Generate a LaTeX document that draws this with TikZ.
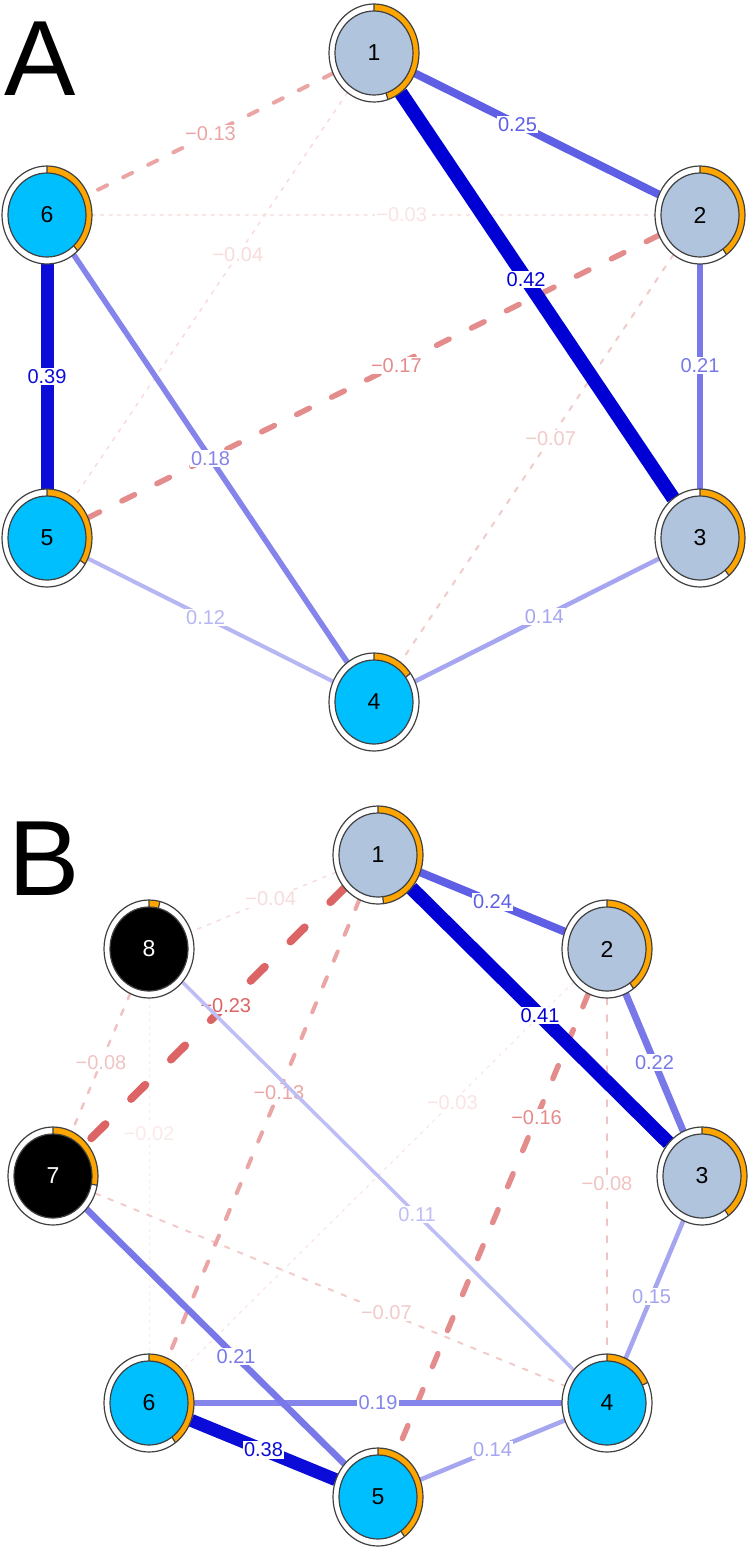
\documentclass[tikz,border=0pt]{standalone}
\usepackage{fontspec}
\setmainfont{Liberation Sans}
\usetikzlibrary{shapes.geometric}
\definecolor{steel}{HTML}{B0C4DE}
\definecolor{sky}{HTML}{00BFFF}
\definecolor{pieorange}{HTML}{FFA500}
\definecolor{ringgray}{HTML}{404040}
% positive edge colours
\definecolor{p42}{RGB}{0,0,213}
\definecolor{p39}{RGB}{12,12,216}
\definecolor{p25}{RGB}{95,95,230}
\definecolor{p21}{RGB}{120,120,232}
\definecolor{p18}{RGB}{132,132,234}
\definecolor{p14}{RGB}{165,165,240}
\definecolor{p12}{RGB}{182,182,244}
\definecolor{p11}{RGB}{190,190,246}
% negative edge colours
\definecolor{n23}{RGB}{220,100,100}
\definecolor{n17}{RGB}{228,140,140}
\definecolor{n13}{RGB}{235,165,165}
\definecolor{n08}{RGB}{241,195,195}
\definecolor{n07}{RGB}{243,202,202}
\definecolor{n04}{RGB}{248,220,220}
\definecolor{n03}{RGB}{250,228,228}
\definecolor{n02}{RGB}{251,234,234}
\tikzset{
  anchorpt/.style={ellipse, minimum width=90pt, minimum height=98pt, inner sep=0pt},
  posedge/.style={line cap=butt},
  negedge/.style={line cap=round},
  lab/.style={fill=white, inner sep=1.5pt, font=\fontsize{20}{20}\selectfont},
  bigletter/.style={font=\fontsize{107}{107}\selectfont, anchor=base west, inner sep=0pt}
}
\newcommand{\pienode}[6]{%
\begin{scope}[shift={(#1,#2)}]
 \fill[white] (0,0) ellipse[x radius=45, y radius=49];
 \fill[pieorange] (-90:45 and 49) arc[start angle=-90, end angle=#3, x radius=45, y radius=49] -- (#3:39 and 42) arc[start angle=#3, end angle=-90, x radius=39, y radius=42] -- cycle;
 \draw[line width=1.2pt, ringgray] (-90:39 and 42) -- (-90:45 and 49) (#3:39 and 42) -- (#3:45 and 49);
 \draw[line width=1.2pt, ringgray] (0,0) ellipse[x radius=45, y radius=49];
 \filldraw[fill=#4, draw=ringgray, line width=1.2pt] (0,0) ellipse[x radius=39, y radius=42];
 \node[text=#5, font=\fontsize{23}{23}\selectfont] at (0,0) {#6};
\end{scope}}
\begin{document}
\begin{tikzpicture}[x=1pt, y=-1pt]
\useasboundingbox (0,0) rectangle (755,1548);
% ---------- Panel A ----------
\node[bigletter] (la) at (4,95) {A};
\node[anchorpt] (a1) at (374,53) {};
\node[anchorpt] (a2) at (700,215) {};
\node[anchorpt] (a3) at (700,538) {};
\node[anchorpt] (a4) at (374,702) {};
\node[anchorpt] (a5) at (47,538) {};
\node[anchorpt] (a6) at (47,215) {};
% negative edges
\draw[negedge, line width=1.2pt, draw=n03, dash pattern=on 3pt off 5.5pt] (a6) -- (a2) node[lab, text=n03, pos=.55] {−0.03};
\draw[negedge, line width=1.5pt, draw=n04, dash pattern=on 3.7pt off 6.7pt] (a1) -- (a5) node[lab, text=n04, pos=.4] {−0.04};
\draw[negedge, line width=2pt, draw=n07, dash pattern=on 5pt off 9pt] (a2) -- (a4) node[lab, text=n07, pos=.45] {−0.07};
\draw[negedge, line width=4pt, draw=n13, dash pattern=on 10pt off 18pt] (a1) -- (a6) node[lab, text=n13, pos=.5] {−0.13};
\draw[negedge, line width=5.5pt, draw=n17, dash pattern=on 14pt off 25pt] (a2) -- (a5) node[lab, text=n17, pos=.46] {−0.17};
% positive edges
\draw[posedge, line width=4pt, draw=p12] (a5) -- (a4) node[lab, text=p12, pos=.48] {0.12};
\draw[posedge, line width=4.5pt, draw=p14] (a3) -- (a4) node[lab, text=p14, pos=.47] {0.14};
\draw[posedge, line width=5.5pt, draw=p18] (a6) -- (a4) node[lab, text=p18, pos=.5] {0.18};
\draw[posedge, line width=6.5pt, draw=p21] (a2) -- (a3) node[lab, text=p21, pos=.45] {0.21};
\draw[posedge, line width=8pt, draw=p25] (a1) -- (a2) node[lab, text=p25, pos=.42] {0.25};
\draw[posedge, line width=13pt, draw=p39] (a6) -- (a5) node[lab, text=p39, pos=.5] {0.39};
\draw[posedge, line width=14pt, draw=p42] (a1) -- (a3) node[lab, text=p42, pos=.46] {0.42};
% node graphics
\pienode{374}{53}{72}{steel}{black}{1}
\pienode{700}{215}{54}{steel}{black}{2}
\pienode{700}{538}{50}{steel}{black}{3}
\pienode{374}{702}{-36}{sky}{black}{4}
\pienode{47}{538}{32}{sky}{black}{5}
\pienode{47}{215}{47}{sky}{black}{6}
% ---------- Panel B ----------
\node[bigletter] (lb) at (8,895) {B};
\node[anchorpt] (b1) at (378,855) {};
\node[anchorpt] (b2) at (607,949) {};
\node[anchorpt] (b3) at (702,1176) {};
\node[anchorpt] (b4) at (607,1403) {};
\node[anchorpt] (b5) at (378,1497) {};
\node[anchorpt] (b6) at (149,1403) {};
\node[anchorpt] (b7) at (53,1176) {};
\node[anchorpt] (b8) at (149,949) {};
% negative edges
\draw[negedge, line width=1pt, draw=n02, dash pattern=on 2.5pt off 4.5pt] (b8) -- (b6) node[lab, text=n02, pos=.38] {−0.02};
\draw[negedge, line width=1.2pt, draw=n03, dash pattern=on 3pt off 5.5pt] (b2) -- (b6) node[lab, text=n03, pos=.31] {−0.03};
\draw[negedge, line width=1.5pt, draw=n04, dash pattern=on 3.7pt off 6.7pt] (b1) -- (b8) node[lab, text=n04, pos=.45] {−0.04};
\draw[negedge, line width=2pt, draw=n07, dash pattern=on 5pt off 9pt] (b7) -- (b4) node[lab, text=n07, pos=.62] {−0.07};
\draw[negedge, line width=2.5pt, draw=n08, dash pattern=on 6pt off 11pt] (b8) -- (b7) node[lab, text=n08, pos=.5] {−0.08};
\draw[negedge, line width=2.5pt, draw=n08, dash pattern=on 6pt off 11pt] (b2) -- (b4) node[lab, text=n08, pos=.52] {−0.08};
\draw[negedge, line width=4pt, draw=n13, dash pattern=on 10pt off 18pt] (b1) -- (b6) node[lab, text=n13, pos=.42] {−0.13};
\draw[negedge, line width=5.5pt, draw=n17, dash pattern=on 14pt off 25pt] (b2) -- (b5) node[lab, text=n17, pos=.27] {−0.16};
\draw[negedge, line width=8pt, draw=n23, dash pattern=on 20pt off 36pt] (b1) -- (b7) node[lab, text=n23, pos=.46] {−0.23};
% positive edges
\draw[posedge, line width=3.5pt, draw=p11] (b8) -- (b4) node[lab, text=p11, pos=.6] {0.11};
\draw[posedge, line width=4.5pt, draw=p14] (b4) -- (b5) node[lab, text=p14, pos=.5] {0.14};
\draw[posedge, line width=4.5pt, draw=p14] (b3) -- (b4) node[lab, text=p14, pos=.55] {0.15};
\draw[posedge, line width=6pt, draw=p18] (b6) -- (b4) node[lab, text=p18, pos=.5] {0.19};
\draw[posedge, line width=6.5pt, draw=p21] (b7) -- (b5) node[lab, text=p21, pos=.58] {0.21};
\draw[posedge, line width=7pt, draw=p21] (b2) -- (b3) node[lab, text=p21, pos=.5] {0.22};
\draw[posedge, line width=8pt, draw=p25] (b1) -- (b2) node[lab, text=p25, pos=.5] {0.24};
\draw[posedge, line width=13pt, draw=p39] (b6) -- (b5) node[lab, text=p39, pos=.5] {0.38};
\draw[posedge, line width=14pt, draw=p42] (b1) -- (b3) node[lab, text=p42, pos=.5] {0.41};
% node graphics
\pienode{378}{855}{83}{steel}{black}{1}
\pienode{607}{949}{54}{steel}{black}{2}
\pienode{702}{1176}{54}{steel}{black}{3}
\pienode{607}{1403}{-25}{sky}{black}{4}
\pienode{378}{1497}{54}{sky}{black}{5}
\pienode{149}{1403}{54}{sky}{black}{6}
\pienode{53}{1176}{11}{black}{white}{7}
\pienode{149}{949}{-76}{black}{white}{8}
\end{tikzpicture}
\end{document}
